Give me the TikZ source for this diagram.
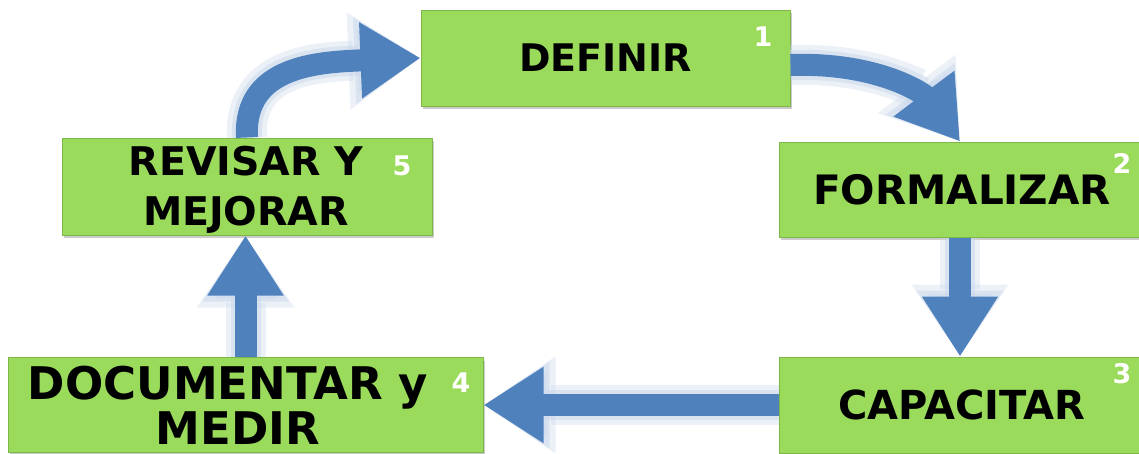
\documentclass[tikz,border=0pt]{standalone}
\usepackage{fontspec}
\setmainfont{DejaVu Sans}
\usetikzlibrary{arrows.meta,shadows}
\definecolor{boxgreen}{HTML}{9BDB5B}
\definecolor{boxedge}{HTML}{7FB64A}
\definecolor{arrblue}{HTML}{4F81BD}
\definecolor{glowblue}{HTML}{C9D8EC}
\tikzset{
  stepbox/.style={draw=boxedge, line width=1pt, fill=boxgreen, inner sep=0pt,
    align=center, font=\bfseries\fontsize{40}{50}\selectfont,
    drop shadow={shadow xshift=2pt, shadow yshift=-3pt, fill=black!45, opacity=0.45}},
  boxtext/.style={inner sep=0pt, align=center},
  numlabel/.style={text=white, font=\bfseries\fontsize{27}{30}\selectfont, inner sep=0pt},
  flow/.style={draw=arrblue, line width=22pt,
    -{Triangle[width=72pt,length=60pt,fill=arrblue]},
    preaction={draw=glowblue, opacity=0.35, line width=40pt,
      -{Triangle[width=92pt,length=72pt,fill=glowblue]}},
    preaction={draw=glowblue, opacity=0.5, line width=30pt,
      -{Triangle[width=82pt,length=66pt,fill=glowblue]}}}
}
\begin{document}
\begin{tikzpicture}[x=1pt,y=-1pt]
\useasboundingbox (0,0) rectangle (1139,453);
\fill[white] (0,0) rectangle (1139,453);
% boxes
\node[stepbox, minimum width=369pt, minimum height=96pt, font=\bfseries\fontsize{38}{50}\selectfont] (def) at (605.5,58) {DEFINIR};
\node[stepbox, minimum width=362pt, minimum height=95pt, font=\bfseries\fontsize{40.5}{50}\selectfont] (form) at (960,189.5) {\hspace*{4pt}FORMALIZAR};
\node[stepbox, minimum width=362pt, minimum height=96pt, font=\bfseries\fontsize{40}{50}\selectfont] (cap) at (960,405) {\hspace*{4pt}CAPACITAR};
\node[stepbox, minimum width=475pt, minimum height=95pt] (doc) at (245.5,405) {};
\node[boxtext, font=\bfseries\fontsize{45}{45}\selectfont] (doct) at (228,405) {DOCUMENTAR y\\\hspace*{20pt}MEDIR};
\node[stepbox, minimum width=370pt, minimum height=97pt] (rev) at (247,186.5) {};
\node[boxtext, font=\bfseries\fontsize{39.5}{50}\selectfont] (revt) at (246,190) {REVISAR Y\\MEJORAR};
% numbers
\node[numlabel] (n1) at (763,37) {1};
\node[numlabel] (n2) at (1122,163) {2};
\node[numlabel] (n3) at (1122,374) {3};
\node[numlabel] (n4) at (461,383) {4};
\node[numlabel] (n5) at (402,166) {5};
% arrows
\draw[flow] ([yshift=-7pt]def.east) .. controls (880,62) and (925,95) .. (form.north);
\draw[flow] (form.south) -- (cap.north);
\draw[flow] (cap.west) -- (doc.east);
\draw[flow] (doc.north) -- (doc.north |- rev.south);
\draw[flow] (rev.north) .. controls (243,65) and (320,62) .. (def.west);
\end{tikzpicture}
\end{document}
